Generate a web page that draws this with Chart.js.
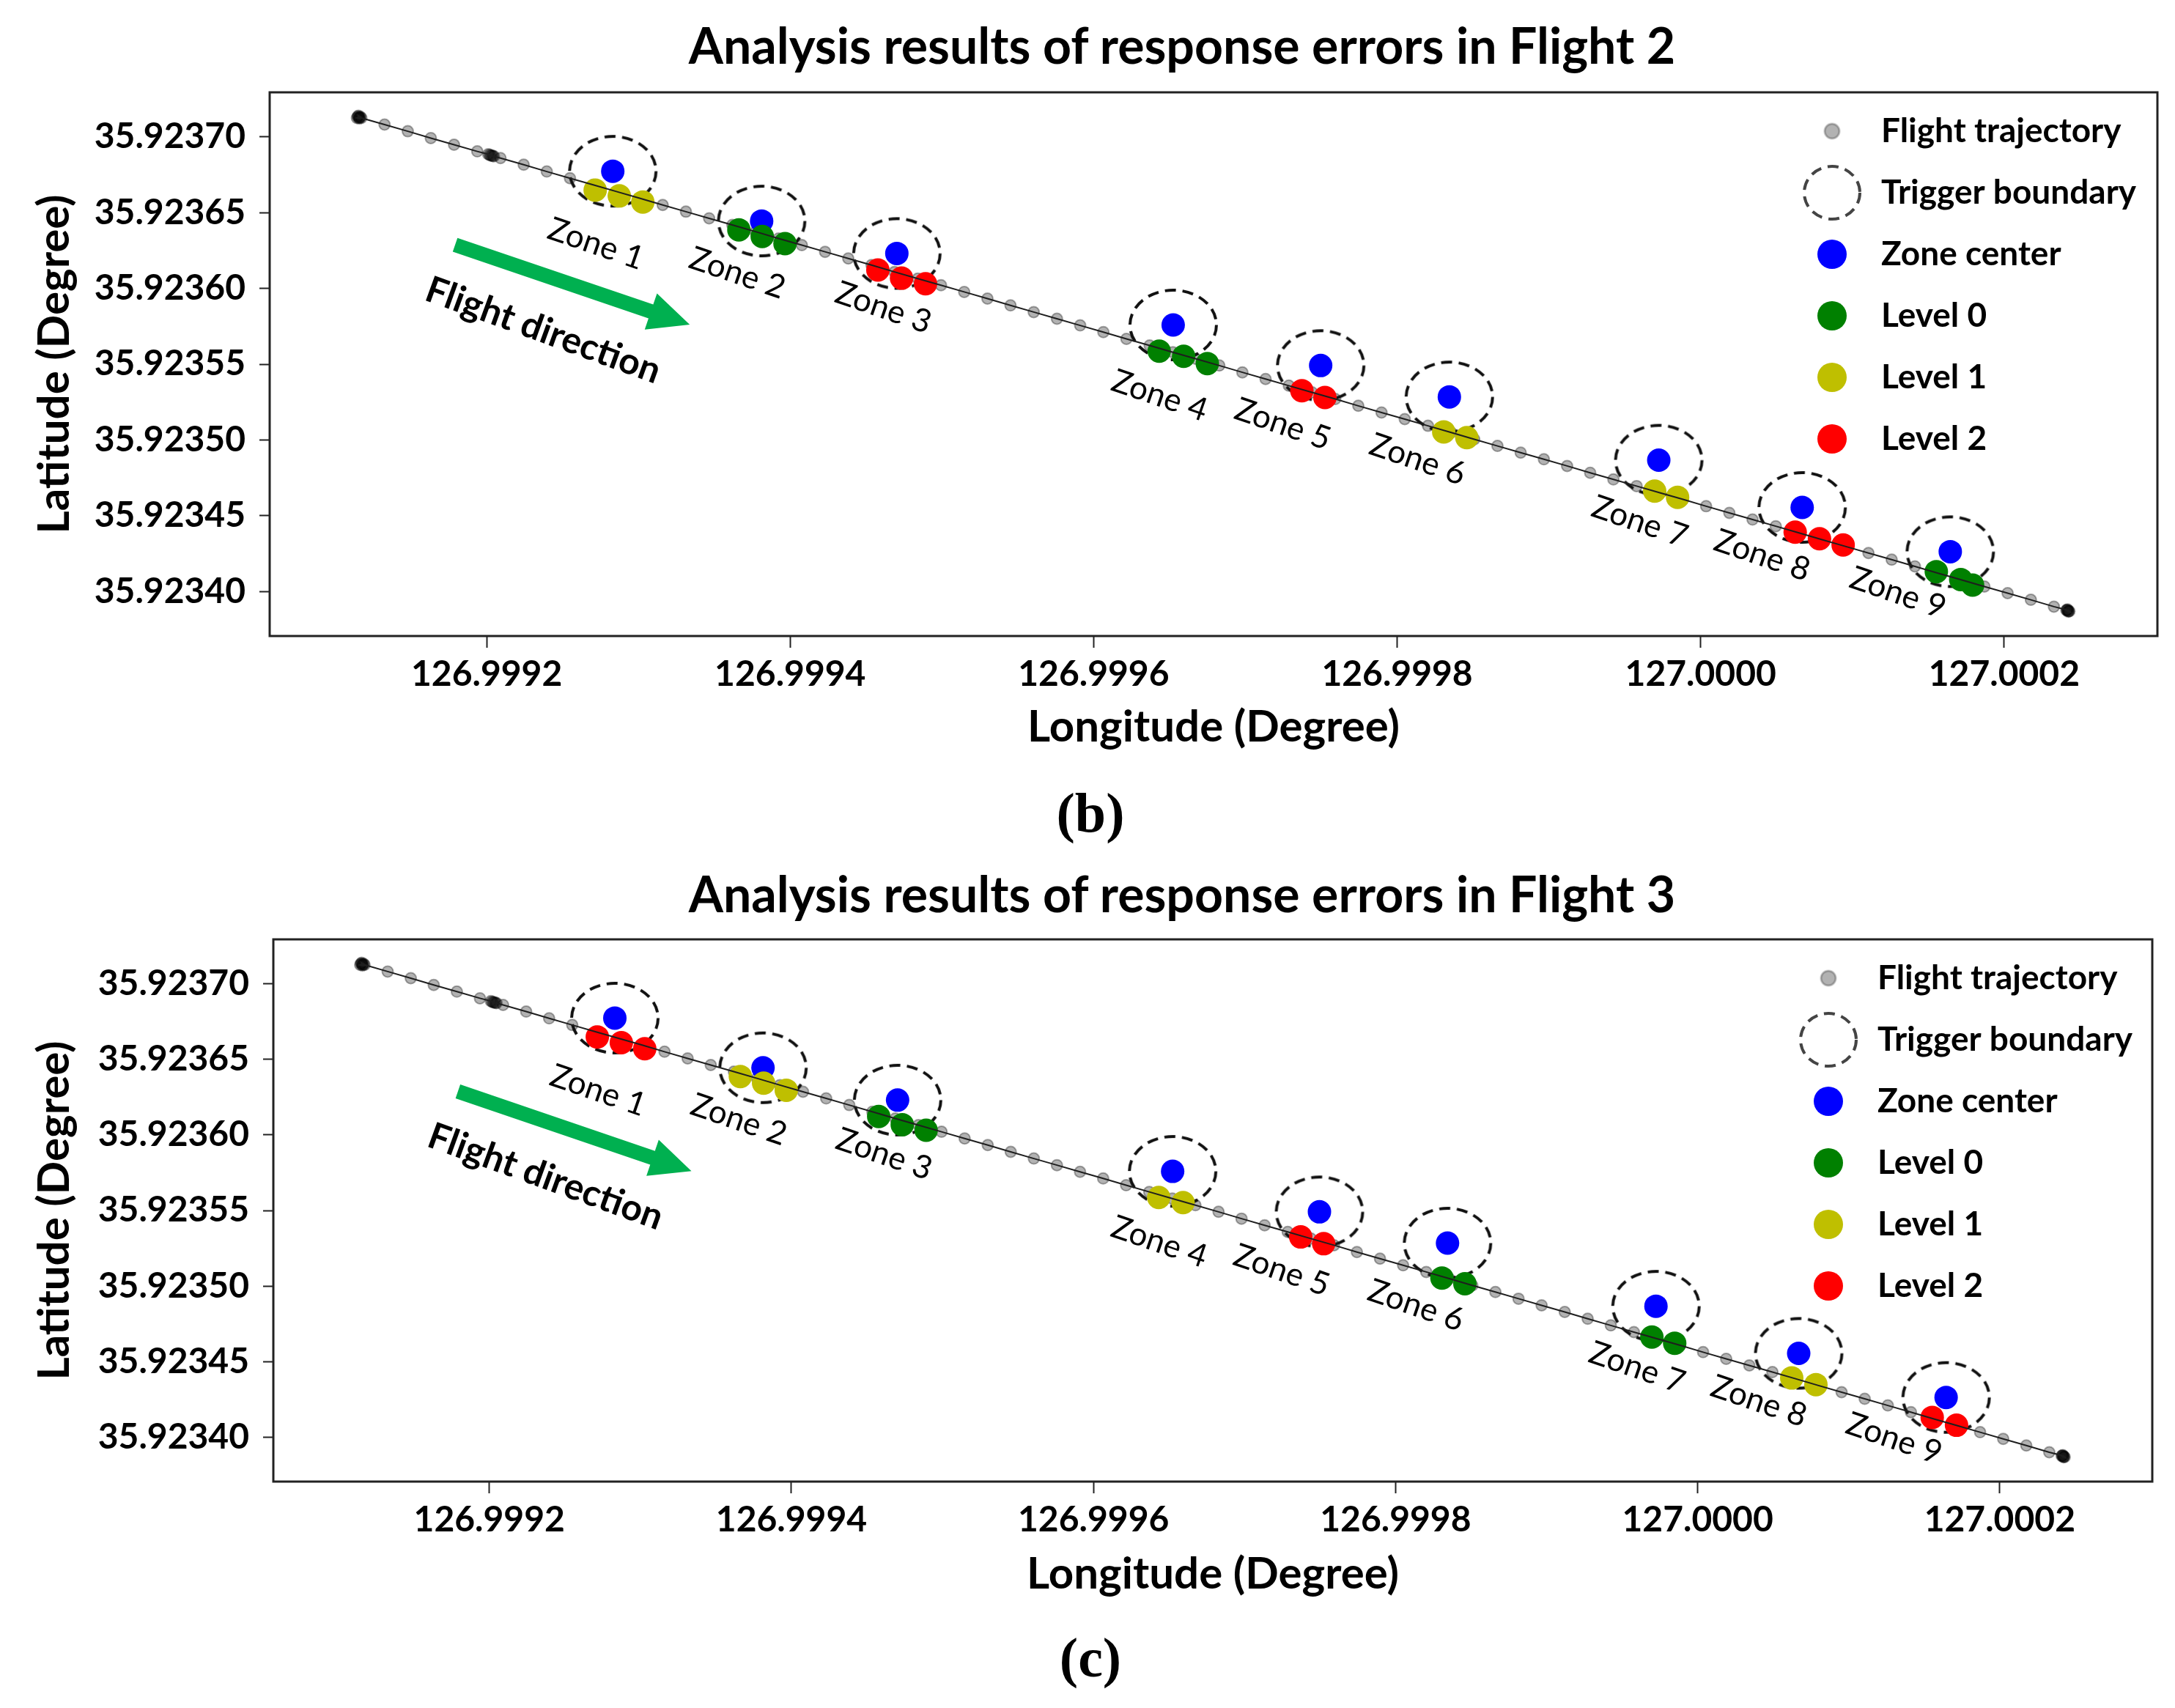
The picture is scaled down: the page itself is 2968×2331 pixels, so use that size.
<!DOCTYPE html>
<html>
<head>
<meta charset="utf-8">
<script src="https://cdn.jsdelivr.net/npm/chart.js@4.4.1/dist/chart.umd.min.js"></script>
<style>
  html, body { margin: 0; padding: 0; background: #fff; }
  #page { position: relative; width: 2968px; height: 2331px; overflow: hidden; background: #fff; }
  canvas { position: absolute; left: 0; }
  .title { position: absolute; transform: translate(-50%, -50%); white-space: nowrap;
           font: bold 68px Lato, sans-serif; line-height: 1; color: #000; }
  .panel { position: absolute; transform: translate(-50%, -50%); white-space: nowrap;
           font: bold 76px "Liberation Serif", serif; line-height: 1; color: #000; }
</style>
</head>
<body>
<div id="page">
  <div class="title" style="left:1613px; top:61px;">Analysis results of response errors in Flight 2</div>
  <canvas id="flight2" width="2968" height="1050" style="top:0px;"></canvas>
  <div class="panel" style="left:1488px; top:1109px;">(b)</div>
  <div class="title" style="left:1613px; top:1219px;">Analysis results of response errors in Flight 3</div>
  <canvas id="flight3" width="2968" height="1050" style="top:1156px;"></canvas>
  <div class="panel" style="left:1488px; top:2262px;">(c)</div>
</div>
<script>
// axes
var lonTicks = [126.9992, 126.9994, 126.9996, 126.9998, 127.0000, 127.0002];
var latTicks = [35.92340, 35.92345, 35.92350, 35.92355, 35.92360, 35.92365, 35.92370];
var lonRange = [126.999057, 127.000301];
var latRange = [35.9233705, 35.9237295];

// flight trajectory (same path in both flights); hover spots give several close samples
var trackLon = [
  126.9991150, 126.9991162, 126.9991155, 126.9991168, 126.9991145, 126.9991160, 126.9991158,
  126.9991174, 126.9991327, 126.9991480, 126.9991632, 126.9991785, 126.9991938,
  126.9992010, 126.9992019, 126.9992026, 126.9992034, 126.9992041, 126.9992048,
  126.9992091, 126.9992244, 126.9992396, 126.9992549, 126.9992702, 126.9992855, 126.9993008,
  126.9993160, 126.9993313, 126.9993466, 126.9993619, 126.9993772, 126.9993924, 126.9994077,
  126.9994230, 126.9994383, 126.9994536, 126.9994688, 126.9994841, 126.9994994, 126.9995147,
  126.9995300, 126.9995452, 126.9995605, 126.9995758, 126.9995911, 126.9996064, 126.9996216,
  126.9996369, 126.9996522, 126.9996675, 126.9996828, 126.9996980, 126.9997133, 126.9997286,
  126.9997439, 126.9997592, 126.9997744, 126.9997897, 126.9998050, 126.9998203, 126.9998356,
  126.9998508, 126.9998661, 126.9998814, 126.9998967, 126.9999120, 126.9999272, 126.9999425,
  126.9999578, 126.9999731, 126.9999884, 127.0000036, 127.0000189, 127.0000342, 127.0000495,
  127.0000648, 127.0000800, 127.0000953, 127.0001106, 127.0001259, 127.0001412, 127.0001564,
  127.0001717, 127.0001870, 127.0002023, 127.0002176, 127.0002328,
  127.0002414, 127.0002425, 127.0002418, 127.0002430, 127.0002410, 127.0002422, 127.0002420
];
var trackLat = [
  35.9237135, 35.9237128, 35.9237140, 35.9237133, 35.9237126, 35.9237122, 35.9237131,
  35.9237126, 35.9237082, 35.9237038, 35.9236993, 35.9236949, 35.9236905,
  35.9236886, 35.9236882, 35.9236878, 35.9236878, 35.9236874, 35.9236873,
  35.9236861, 35.9236817, 35.9236772, 35.9236728, 35.9236684, 35.9236640, 35.9236596,
  35.9236551, 35.9236507, 35.9236463, 35.9236419, 35.9236375, 35.9236330, 35.9236286,
  35.9236242, 35.9236198, 35.9236154, 35.9236109, 35.9236065, 35.9236021, 35.9235977,
  35.9235933, 35.9235888, 35.9235844, 35.9235800, 35.9235756, 35.9235712, 35.9235667,
  35.9235623, 35.9235579, 35.9235535, 35.9235491, 35.9235446, 35.9235402, 35.9235358,
  35.9235314, 35.9235270, 35.9235225, 35.9235181, 35.9235137, 35.9235093, 35.9235049,
  35.9235004, 35.9234960, 35.9234916, 35.9234872, 35.9234828, 35.9234783, 35.9234739,
  35.9234695, 35.9234651, 35.9234607, 35.9234562, 35.9234518, 35.9234474, 35.9234430,
  35.9234386, 35.9234341, 35.9234297, 35.9234253, 35.9234209, 35.9234165, 35.9234120,
  35.9234076, 35.9234032, 35.9233988, 35.9233944, 35.9233899,
  35.9233877, 35.9233870, 35.9233880, 35.9233868, 35.9233875, 35.9233866, 35.9233873
];

// zones
var zoneNames = ['Zone 1', 'Zone 2', 'Zone 3', 'Zone 4', 'Zone 5', 'Zone 6', 'Zone 7', 'Zone 8', 'Zone 9'];
var zoneLon = [126.9992831, 126.9993812, 126.9994703, 126.9996524, 126.9997496, 126.9998344, 126.9999724, 127.0000669, 127.0001645];
var zoneLat = [35.9236774, 35.9236445, 35.9236231, 35.9235759, 35.9235491, 35.9235284, 35.9234866, 35.9234554, 35.9234262];
var zoneLabelLon = [126.9992720, 126.9993652, 126.9994614, 126.9996435, 126.9997246, 126.9998135, 126.9999599, 127.0000406, 127.0001300];
var zoneLabelLat = [35.9236293, 35.9236100, 35.9235872, 35.9235291, 35.9235103, 35.9234870, 35.9234459, 35.9234236, 35.9233989];

// response points, [lon, lat]
var flight2Level0 = [
  [126.9993662, 35.9236387], [126.9993816, 35.9236343], [126.9993966, 35.9236296],
  [126.9996432, 35.9235586], [126.9996593, 35.9235552], [126.9996749, 35.9235504],
  [127.0001553, 35.9234130], [127.0001714, 35.9234078], [127.0001792, 35.9234041]
];
var flight2Level1 = [
  [126.9992715, 35.9236649], [126.9992874, 35.9236611], [126.9993029, 35.9236571],
  [126.9998307, 35.9235053], [126.9998459, 35.9235015],
  [126.9999697, 35.9234662], [126.9999848, 35.9234621]
];
var flight2Level2 = [
  [126.9994578, 35.9236122], [126.9994734, 35.9236068], [126.9994892, 35.9236031],
  [126.9997372, 35.9235325], [126.9997524, 35.9235280],
  [127.0000623, 35.9234391], [127.0000783, 35.9234347], [127.0000939, 35.9234306]
];
var flight3Level0 = [
  [126.9994578, 35.9236122], [126.9994734, 35.9236068], [126.9994892, 35.9236031],
  [126.9998307, 35.9235053], [126.9998459, 35.9235015],
  [126.9999697, 35.9234662], [126.9999848, 35.9234621]
];
var flight3Level1 = [
  [126.9993662, 35.9236387], [126.9993816, 35.9236343], [126.9993966, 35.9236296],
  [126.9996432, 35.9235586], [126.9996593, 35.9235552],
  [127.0000623, 35.9234391], [127.0000783, 35.9234347]
];
var flight3Level2 = [
  [126.9992715, 35.9236649], [126.9992874, 35.9236611], [126.9993029, 35.9236571],
  [126.9997372, 35.9235325], [126.9997524, 35.9235280],
  [127.0001553, 35.9234130], [127.0001714, 35.9234078]
];

// flight direction arrow (tail, head) and its caption
var arrowLon = [126.9991792, 126.9993338];
var arrowLat = [35.9236288, 35.9235761];
var arrowTextLon = 126.9992372;
var arrowTextLat = 35.9235722;

var legendNames = ['Flight trajectory', 'Trigger boundary', 'Zone center', 'Level 0', 'Level 1', 'Level 2'];

Chart.defaults.font.family = 'Lato';
Chart.defaults.color = '#000';

function ellipseMark(w, h, fill, stroke, lw, dash) {
  lw = lw || 0;
  var c = document.createElement('canvas');
  c.width = Math.ceil(w + 2 * lw + 2);
  c.height = Math.ceil(h + 2 * lw + 2);
  var g = c.getContext('2d');
  g.beginPath();
  g.ellipse(c.width / 2, c.height / 2, w / 2, h / 2, 0, 0, Math.PI * 2);
  if (fill) { g.fillStyle = fill; g.fill(); }
  if (stroke && lw) {
    g.setLineDash(dash || []);
    g.lineWidth = lw;
    g.strokeStyle = stroke;
    g.stroke();
  }
  return c;
}

var ringMark = ellipseMark(118, 95, null, '#111', 4, [15, 9]);
var legendMarks = [
  ellipseMark(20, 20, 'rgba(0,0,0,0.3)', 'rgba(0,0,0,0.3)', 2.5),
  ellipseMark(76, 72, null, '#444', 4, [15, 9]),
  ellipseMark(40, 40, '#0000ff'),
  ellipseMark(40, 40, '#008000'),
  ellipseMark(40, 40, '#bfbf00'),
  ellipseMark(40, 40, '#ff0000')
];

var framePlugin = {
  id: 'frame',
  afterDraw: function (chart) {
    var a = chart.chartArea, ctx = chart.ctx;
    ctx.save();
    ctx.strokeStyle = '#222';
    ctx.lineWidth = 3;
    ctx.strokeRect(a.left, a.top, a.right - a.left, a.bottom - a.top);
    ctx.restore();
  }
};

var placeLegend = {
  id: 'placeLegend',
  afterLayout: function (chart, args, opts) {
    var lg = chart.legend, a = chart.chartArea;
    lg.left = opts.left;
    lg.right = a.right;
    lg.top = a.top - 8;
    lg.bottom = a.bottom;
  }
};

var annotate = {
  id: 'annotate',
  afterDatasetsDraw: function (chart) {
    var ctx = chart.ctx, xs = chart.scales.x, ys = chart.scales.y;
    ctx.save();
    // zone names
    ctx.font = '44px Lato';
    ctx.fillStyle = '#000';
    ctx.textAlign = 'center';
    ctx.textBaseline = 'middle';
    zoneNames.forEach(function (t, i) {
      ctx.save();
      ctx.translate(xs.getPixelForValue(zoneLabelLon[i]), ys.getPixelForValue(zoneLabelLat[i]));
      ctx.rotate(19 * Math.PI / 180);
      ctx.fillText(t, 0, 0);
      ctx.restore();
    });
    // arrow
    var x0 = xs.getPixelForValue(arrowLon[0]), y0 = ys.getPixelForValue(arrowLat[0]);
    var x1 = xs.getPixelForValue(arrowLon[1]), y1 = ys.getPixelForValue(arrowLat[1]);
    var len = Math.hypot(x1 - x0, y1 - y0), ang = Math.atan2(y1 - y0, x1 - x0);
    var sw = 10, hw = 26, hl = 56;
    ctx.save();
    ctx.translate(x0, y0);
    ctx.rotate(ang);
    ctx.fillStyle = '#00b050';
    ctx.beginPath();
    ctx.moveTo(0, -sw);
    ctx.lineTo(len - hl, -sw);
    ctx.lineTo(len - hl, -hw);
    ctx.lineTo(len, 0);
    ctx.lineTo(len - hl, hw);
    ctx.lineTo(len - hl, sw);
    ctx.lineTo(0, sw);
    ctx.closePath();
    ctx.fill();
    ctx.restore();
    // arrow caption
    ctx.save();
    ctx.translate(xs.getPixelForValue(arrowTextLon), ys.getPixelForValue(arrowTextLat));
    ctx.rotate(20 * Math.PI / 180);
    ctx.font = 'bold 50px Lato';
    ctx.fillText('Flight direction', 0, 0);
    ctx.restore();
    ctx.restore();
  }
};

function toPoints(list) {
  return list.map(function (p) { return { x: p[0], y: p[1] }; });
}

function drawFlight(id, level0, level1, level2, geom) {
  var track = trackLon.map(function (v, i) { return { x: v, y: trackLat[i] }; });
  var zones = zoneLon.map(function (v, i) { return { x: v, y: zoneLat[i] }; });
  var dot = { pointRadius: 16, pointHoverRadius: 16, borderWidth: 0 };

  new Chart(document.getElementById(id), {
    type: 'scatter',
    data: {
      datasets: [
        { label: 'path', data: track, showLine: true, borderColor: '#1e1e1e', borderWidth: 2,
          pointRadius: 0, fill: false, order: 0 },
        Object.assign({ label: 'Level 2', data: toPoints(level2), backgroundColor: '#ff0000', order: 1 }, dot),
        Object.assign({ label: 'Level 1', data: toPoints(level1), backgroundColor: '#bfbf00', order: 2 }, dot),
        Object.assign({ label: 'Level 0', data: toPoints(level0), backgroundColor: '#008000', order: 3 }, dot),
        Object.assign({ label: 'Zone center', data: zones, backgroundColor: '#0000ff', order: 4 }, dot),
        { label: 'Trigger boundary', data: zones, pointStyle: ringMark, pointRadius: 1, order: 5 },
        { label: 'Flight trajectory', data: track, backgroundColor: 'rgba(0,0,0,0.3)',
          borderColor: 'rgba(0,0,0,0.32)', borderWidth: 2, pointRadius: 7.5, order: 6 }
      ]
    },
    options: {
      responsive: false,
      animation: false,
      events: [],
      layout: { padding: { top: 126, right: geom.right, left: 0, bottom: 0 } },
      scales: {
        x: {
          type: 'linear', min: lonRange[0], max: lonRange[1],
          afterBuildTicks: function (s) { s.ticks = lonTicks.map(function (v) { return { value: v }; }); },
          afterFit: function (s) { s.height = geom.xh; },
          ticks: { autoSkip: false, maxRotation: 0, padding: 8, color: '#000',
                   font: { size: 48, weight: 'bold' },
                   callback: function (v) { return v.toFixed(4); } },
          grid: { drawOnChartArea: false, tickLength: 16, tickWidth: 2, tickColor: '#222' },
          border: { display: false },
          title: { display: true, text: 'Longitude (Degree)', color: '#000',
                   font: { size: 60, weight: 'bold' }, padding: { top: 0, bottom: 21 } }
        },
        y: {
          type: 'linear', min: latRange[0], max: latRange[1],
          afterBuildTicks: function (s) { s.ticks = latTicks.map(function (v) { return { value: v }; }); },
          afterFit: function (s) { s.width = geom.yw; },
          ticks: { autoSkip: false, padding: 19, color: '#000',
                   font: { size: 48, weight: 'bold' },
                   callback: function (v) { return v.toFixed(5); } },
          grid: { drawOnChartArea: false, tickLength: 14, tickWidth: 2, tickColor: '#222' },
          border: { display: false },
          title: { display: true, text: 'Latitude (Degree)', color: '#000',
                   font: { size: 60, weight: 'bold' }, padding: { top: 39, bottom: 0 } }
        }
      },
      plugins: {
        tooltip: { enabled: false },
        placeLegend: { left: geom.legendLeft },
        legend: {
          position: 'chartArea',
          align: 'start',
          labels: {
            usePointStyle: true,
            pointStyleWidth: 88,
            padding: 38,
            color: '#000',
            font: { size: 46, weight: 'bold' },
            generateLabels: function () {
              return legendNames.map(function (t, i) {
                return { text: t, pointStyle: legendMarks[i], fillStyle: 'rgba(0,0,0,0)',
                         strokeStyle: 'rgba(0,0,0,0)', lineWidth: 0, hidden: false,
                         fontColor: '#000', datasetIndex: 0 };
              });
            }
          }
        }
      }
    },
    plugins: [placeLegend, annotate, framePlugin]
  });
}

drawFlight('flight2', flight2Level0, flight2Level1, flight2Level2, { yw: 368, right: 24, xh: 182, legendLeft: 2418 });
drawFlight('flight3', flight3Level0, flight3Level1, flight3Level2, { yw: 373, right: 31, xh: 184, legendLeft: 2413 });
</script>
</body>
</html>
